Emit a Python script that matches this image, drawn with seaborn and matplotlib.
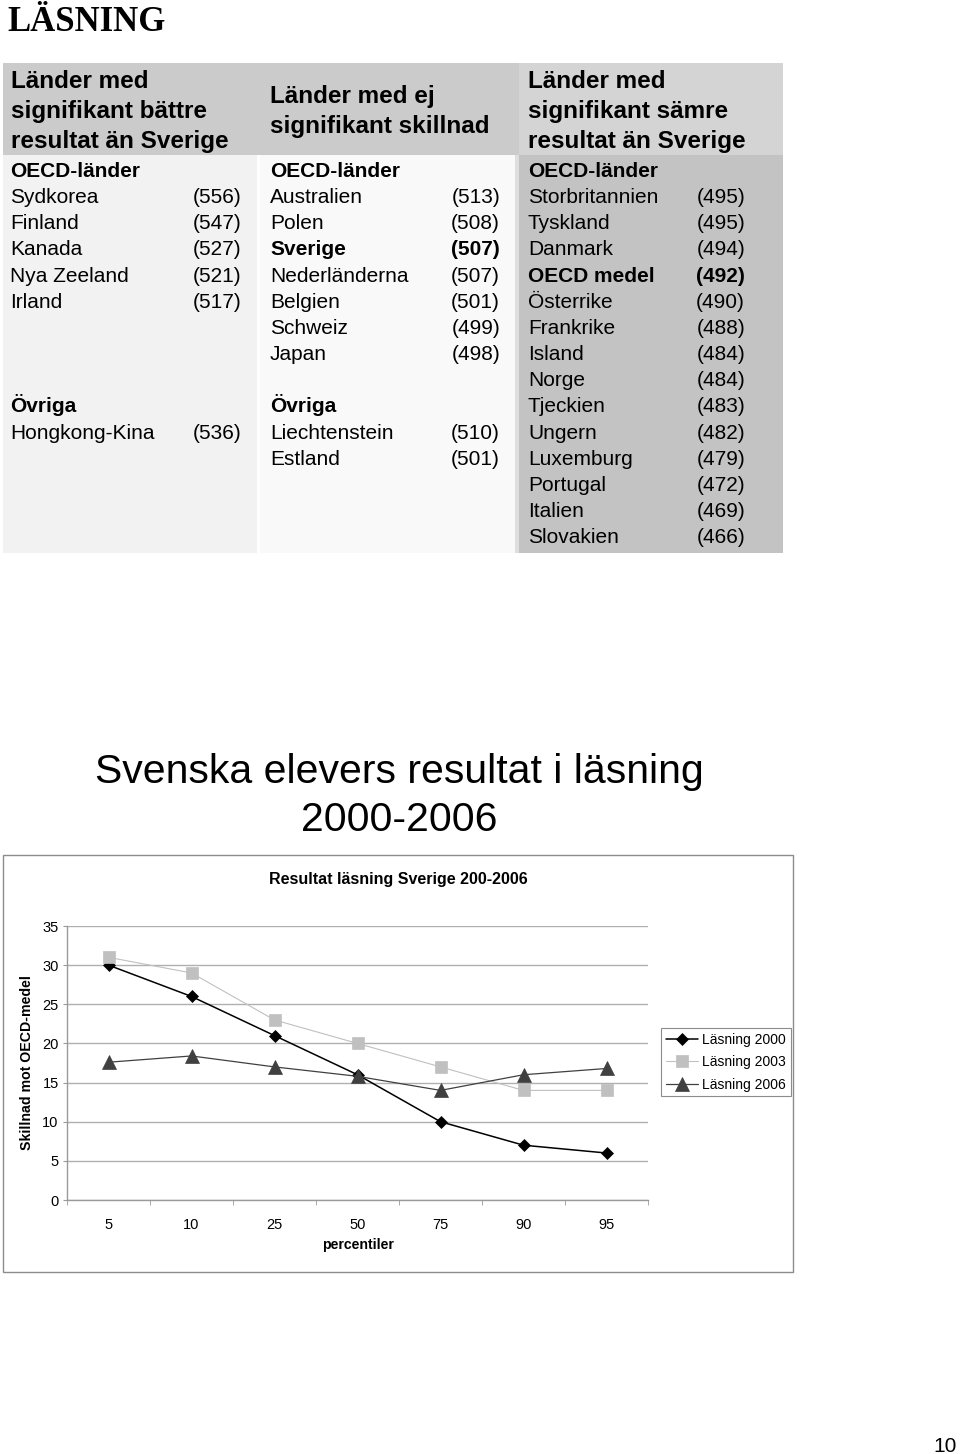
import numpy as np
import pandas as pd
import matplotlib
matplotlib.use("Agg")
import matplotlib.pyplot as plt
import seaborn as sns
from matplotlib.patches import Rectangle
from matplotlib import font_manager as fm

# ---------------- data ----------------
better_oecd_names = ["Sydkorea", "Finland", "Kanada", "Nya Zeeland", "Irland"]
better_oecd_scores = [556, 547, 527, 521, 517]
better_other_names = ["Hongkong-Kina"]
better_other_scores = [536]

same_oecd_names = ["Australien", "Polen", "Sverige", "Nederländerna", "Belgien", "Schweiz", "Japan"]
same_oecd_scores = [513, 508, 507, 507, 501, 499, 498]
same_other_names = ["Liechtenstein", "Estland"]
same_other_scores = [510, 501]

worse_oecd_names = ["Storbritannien", "Tyskland", "Danmark", "OECD medel", "Österrike", "Frankrike",
                    "Island", "Norge", "Tjeckien", "Ungern", "Luxemburg", "Portugal", "Italien", "Slovakien"]
worse_oecd_scores = [495, 495, 494, 492, 490, 488, 484, 484, 483, 482, 479, 472, 469, 466]
bold_names = ["Sverige", "OECD medel"]

percentiles = ["5", "10", "25", "50", "75", "90", "95"]
las2000 = [30, 26, 21, 16, 10, 7, 6]
las2003 = [31, 29, 23, 20, 17, 14, 14]
las2006 = [17.6, 18.4, 17, 15.8, 14, 16, 16.8]
series_names = ["Läsning 2000", "Läsning 2003", "Läsning 2006"]

# ---------------- setup ----------------
W, H = 960, 1454
sns.set_style("white")
plt.rcParams["font.family"] = ["Liberation Sans", "DejaVu Sans"]
plt.rcParams["text.color"] = "black"
plt.rcParams["axes.labelcolor"] = "black"
plt.rcParams["xtick.color"] = "black"
plt.rcParams["ytick.color"] = "black"
names = {f.name for f in fm.fontManager.ttflist}
has_narrow = "Liberation Sans Narrow" in names

fig = plt.figure(figsize=(W / 100, H / 100), dpi=100)


def fx(x):
    return x / W


def fy(y):
    return 1 - y / H


def rect(x0, y0, x1, y1, fc, ec="none", lw=0):
    fig.patches.append(Rectangle((fx(x0), fy(y1)), (x1 - x0) / W, (y1 - y0) / H,
                                 transform=fig.transFigure, facecolor=fc, edgecolor=ec,
                                 linewidth=lw, zorder=0))


def txt(x, y, s, **kw):
    kw.setdefault("color", "black")
    return fig.text(fx(x), fy(y), s, **kw)


# ---------------- page title ----------------
txt(7, 31, "LÄSNING", family=["Liberation Serif", "DejaVu Serif"], weight="bold",
    fontsize=25, ha="left", va="baseline")

# ---------------- table backgrounds ----------------
rect(3, 63, 519, 155, "#cbcbcb")
rect(519, 63, 783, 155, "#d4d4d4")
rect(3, 155, 257, 553, "#f2f2f2")
rect(260, 155, 515, 553, "#f9f9f9")
rect(515, 155, 519, 553, "#dedede")
rect(519, 155, 783, 553, "#c3c3c3")

HEAD = 17.5
BODY = 15
base0 = 177
pitch = 26.15

# headers
for i, line in enumerate(["Länder med", "signifikant bättre", "resultat än Sverige"]):
    txt(11, 88 + 30 * i, line, fontsize=HEAD, weight="bold", va="baseline")
for i, line in enumerate(["Länder med ej", "signifikant skillnad"]):
    txt(270, 103 + 30 * i, line, fontsize=HEAD, weight="bold", va="baseline")
for i, line in enumerate(["Länder med", "signifikant sämre", "resultat än Sverige"]):
    txt(528, 88 + 30 * i, line, fontsize=HEAD, weight="bold", va="baseline")


def column(xl, xr, groups):
    for title, row, nm, sc in groups:
        txt(xl, base0 + pitch * row, title, fontsize=BODY, weight="bold", va="baseline")
        for k, (n, s) in enumerate(zip(nm, sc)):
            y = base0 + pitch * (row + 1 + k)
            w = "bold" if n in bold_names else "normal"
            txt(xl, y, n, fontsize=BODY, weight=w, va="baseline")
            txt(xr, y, f"({s})", fontsize=BODY, weight=w, va="baseline", ha="right")


column(10, 241, [("OECD-länder", 0, better_oecd_names, better_oecd_scores),
                 ("Övriga", 9, better_other_names, better_other_scores)])
column(270, 500, [("OECD-länder", 0, same_oecd_names, same_oecd_scores),
                  ("Övriga", 9, same_other_names, same_other_scores)])
column(528, 745, [("OECD-länder", 0, worse_oecd_names, worse_oecd_scores)])

# ---------------- big title ----------------
if has_narrow:
    tfam, tsize = ["Liberation Sans Narrow", "Liberation Sans"], 36
else:
    tfam, tsize = ["Liberation Sans", "DejaVu Sans"], 29.5
txt(399, 783, "Svenska elevers resultat i läsning", family=tfam, fontsize=tsize,
    ha="center", va="baseline")
txt(399, 831, "2000-2006", family=tfam, fontsize=tsize, ha="center", va="baseline")

# ---------------- chart ----------------
rect(3, 855, 793, 1272, "none", ec="#8c8c8c", lw=1)
txt(398, 879, "Resultat läsning Sverige 200-2006", fontsize=11.5, weight="bold",
    ha="center", va="center")

df = pd.DataFrame({
    "percentil": percentiles * 3,
    "varde": las2000 + las2003 + las2006,
    "serie": [series_names[0]] * 7 + [series_names[1]] * 7 + [series_names[2]] * 7,
})

ax = fig.add_axes([fx(67), fy(1200), (648 - 67) / W, (1200 - 926) / H])
colors = ["#000000", "#c0c0c0", "#404040"]
sns.pointplot(data=df, x="percentil", y="varde", hue="serie", order=percentiles,
              hue_order=series_names, palette=colors, markers=["D", "s", "^"],
              linestyles=["-", "-", "-"], errorbar=None, legend=False, ax=ax)

lws = [1.1, 0.8, 0.9]
mss = [6.2, 8, 9.5]
for ln, c, lw, ms in zip(ax.lines[:3], colors, lws, mss):
    ln.set_linewidth(lw)
    ln.set_markersize(ms)
    ln.set_markerfacecolor(c)
    ln.set_markeredgecolor(c)
    ln.set_markeredgewidth(0.5)
    ln.set_zorder(3)

ax.set_ylim(0, 35)
ax.set_xlim(-0.5, len(percentiles) - 0.5)
ax.set_yticks(range(0, 36, 5))
ax.yaxis.grid(True, color="#b0b0b0", linewidth=1)
ax.xaxis.grid(False)
ax.set_axisbelow(True)
for sp in ["top", "right"]:
    ax.spines[sp].set_visible(False)
for sp in ["left", "bottom"]:
    ax.spines[sp].set_color("#9a9a9a")
    ax.spines[sp].set_linewidth(1)
ax.tick_params(axis="y", which="major", direction="out", length=3, color="#9a9a9a",
               labelcolor="black", labelsize=10.5, pad=3, left=True)
ax.tick_params(axis="x", which="major", length=0, labelsize=10.5, labelcolor="black", pad=13)
ax.set_xticks(np.arange(-0.5, len(percentiles), 1.0), minor=True)
ax.tick_params(axis="x", which="minor", direction="out", length=3.5, color="#9a9a9a",
               bottom=True)
ax.set_ylabel("Skillnad mot OECD-medel", fontsize=10.2, weight="bold", color="black")
ax.yaxis.set_label_coords(-40 / 581, 0.5)
ax.set_xlabel("percentiler", fontsize=10.2, weight="bold", color="black")
ax.xaxis.set_label_coords(0.5, -(1245 - 1200) / 274)
ax.xaxis.label.set_va("center")
ax.yaxis.label.set_va("center")

leg = ax.legend(ax.lines[:3], series_names, loc="upper left",
                bbox_to_anchor=(fx(661), fy(1028)), bbox_transform=fig.transFigure,
                frameon=True, fancybox=False, edgecolor="#8c8c8c", framealpha=1,
                fontsize=10, borderpad=0.35, labelspacing=0.6, handlelength=2.3,
                handletextpad=0.3, borderaxespad=0)
leg.get_frame().set_linewidth(0.8)
for t in leg.get_texts():
    t.set_color("black")

# page number
txt(957, 1452, "10", fontsize=15, ha="right", va="baseline")

fig.savefig("out.png", dpi=100)
